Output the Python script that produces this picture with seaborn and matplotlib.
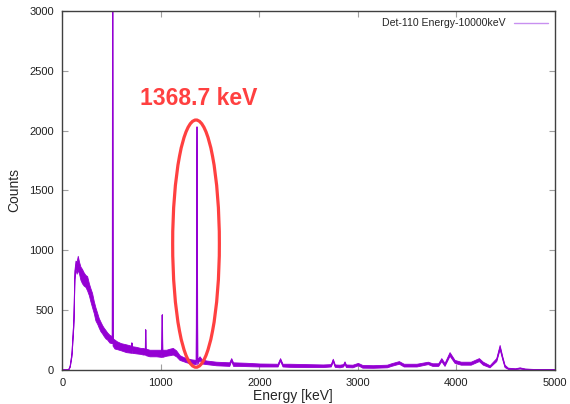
import matplotlib
matplotlib.use("Agg")
import matplotlib.pyplot as plt
from matplotlib.patches import Ellipse
import pandas as pd
import seaborn as sns

# spectrum: energy (keV) with lower / upper edge of the noisy band
energy_kev = [0, 40, 64, 80, 98, 110, 118, 128, 139, 150, 162, 175, 189, 205, 223, 240,
              257, 275, 290, 307, 325, 341, 360, 375, 392, 410, 425, 443, 460, 483, 505,
              508, 511, 515, 535, 560, 600, 653, 700, 703, 706, 709, 750, 800, 822,
              843, 846, 849, 890, 958, 1011, 1015, 1019, 1060, 1100, 1127, 1160, 1195,
              1230, 1263, 1313, 1360, 1367, 1374, 1398, 1420, 1466, 1567, 1700, 1719,
              1738, 1804, 1872, 2007, 2190, 2215, 2240, 2311, 2480, 2650, 2730, 2750,
              2770, 2819, 2855, 2869, 2883, 2950, 3005, 3050, 3157, 3300, 3343, 3421,
              3470, 3600, 3715, 3760, 3820, 3851, 3884, 3935, 3986, 4050, 4150, 4233,
              4273, 4320, 4341, 4409, 4443, 4470, 4493, 4527, 4600, 4646, 4700, 4800, 5000]
counts_lo = [0, 0, 0, 20, 110, 260, 370, 750, 840, 800, 830, 800, 750, 720, 700, 690,
             660, 620, 570, 520, 470, 410, 380, 350, 320, 300, 280, 260, 250, 225, 220,
             225, 3500, 200, 175, 170, 160, 145, 140, 140, 225, 140, 135, 130, 125,
             125, 335, 120, 110, 110, 105, 460, 105, 115, 120, 125, 110, 80,
             70, 60, 50, 45, 2030, 45, 80, 50, 45, 35, 30, 75,
             30, 30, 28, 25, 25, 75, 25, 22, 20, 20, 25, 70,
             22, 18, 25, 50, 20, 18, 35, 15, 14, 18, 30, 48,
             25, 25, 45, 30, 30, 70, 30, 115, 55, 40, 40, 70,
             40, 25, 18, 70, 170, 85, 20, 5, 3, 8, 2, 0, 0]
counts_hi = [0, 0, 0, 35, 140, 320, 430, 830, 910, 900, 950, 900, 860, 840, 810, 790,
             780, 720, 680, 640, 570, 520, 470, 430, 400, 370, 350, 330, 310, 290, 280,
             285, 3500, 260, 250, 235, 220, 210, 200, 200, 225, 195, 190, 180, 180,
             175, 335, 175, 165, 165, 165, 460, 165, 165, 175, 180, 160, 120,
             105, 95, 85, 80, 2030, 85, 110, 85, 75, 65, 60, 95,
             60, 58, 56, 50, 48, 95, 48, 48, 45, 42, 45, 90,
             42, 40, 45, 68, 42, 40, 55, 38, 36, 40, 52, 70,
             48, 48, 65, 52, 52, 95, 55, 145, 80, 65, 65, 95,
             65, 45, 35, 95, 205, 110, 40, 15, 10, 18, 8, 4, 2]

series_label = "Det-110 Energy-10000keV"
annotation = "1368.7 keV"
x_ticks = [0, 1000, 2000, 3000, 4000, 5000]
y_ticks = [0, 500, 1000, 1500, 2000, 2500, 3000]

purple = "#9400D3"
red = "#FF4040"

df = pd.DataFrame({
    "Energy": energy_kev + energy_kev,
    "Counts": counts_lo + counts_hi,
})

sns.set_theme(style="ticks")
plt.rcParams["font.family"] = ["Liberation Sans", "DejaVu Sans"]

fig = plt.figure(figsize=(5.7, 4.04), dpi=100)
ax = fig.add_axes([0.1093, 0.0842, 0.8644, 0.8886])

sns.lineplot(data=df, x="Energy", y="Counts", estimator="mean", errorbar=("pi", 100),
             color=purple, linewidth=0.8, err_kws={"alpha": 1, "linewidth": 0.6},
             label=series_label, ax=ax)

# red marker round the 1368.7 keV line
ax.add_patch(Ellipse((1357, 1056), 474, 2066, fill=False, edgecolor=red, linewidth=2.3, zorder=5))
ax.text(1382, 2265, annotation, color=red, fontsize=16.5, fontweight="bold",
        ha="center", va="center")

ax.set_xlim(0, 5000)
ax.set_ylim(0, 3000)
ax.set_xticks(x_ticks)
ax.set_yticks(y_ticks)
ax.set_xlabel("Energy [keV]", fontsize=10)
ax.set_ylabel("Counts", fontsize=10)
ax.xaxis.set_label_coords(0.467, -0.052)
ax.yaxis.set_label_coords(-0.084, 0.5)
ax.tick_params(direction="in", length=4, width=0.8, color="#a0a0a0", labelsize=8,
               top=True, right=True, pad=6, labelcolor="#202020")
for s in ax.spines.values():
    s.set_color("#404040")
    s.set_linewidth(1)

leg = ax.legend(loc="upper right", frameon=False, markerfirst=False, fontsize=7.6,
                handlelength=3.2, borderaxespad=0.3)
for h in leg.get_lines():
    h.set_color("#C890F0")
    h.set_linewidth(1)

fig.savefig("out.png", dpi=100)
